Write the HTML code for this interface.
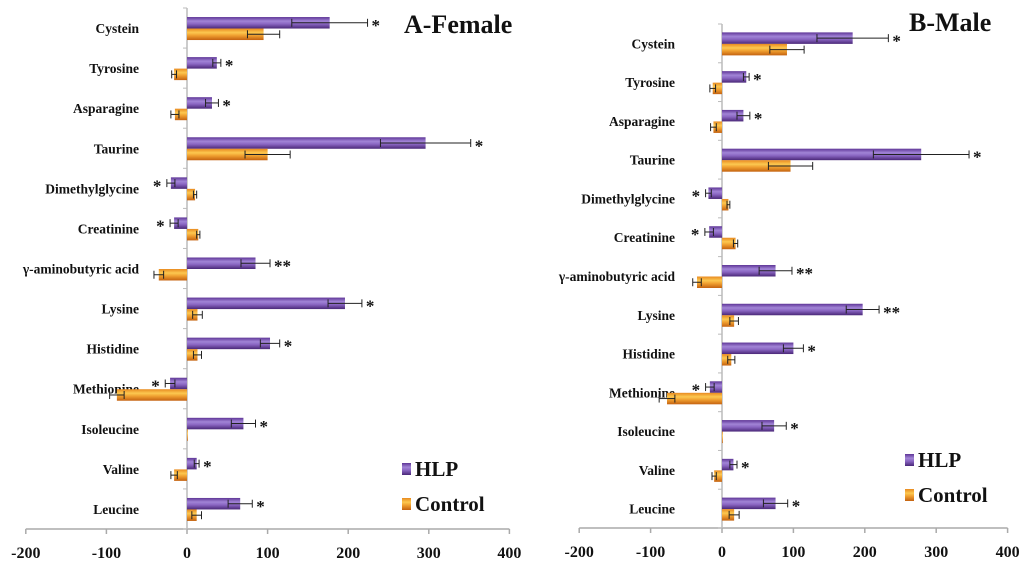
<!DOCTYPE html>
<html><head><meta charset="utf-8">
<style>
html,body{margin:0;padding:0;background:#fff;}
svg{display:block;}
text{font-family:"Liberation Serif",serif;font-weight:bold;fill:#111;}
</style></head>
<body>
<svg id="chart" width="1024" height="576" viewBox="0 0 1024 576" xmlns="http://www.w3.org/2000/svg">
<defs>
<linearGradient id="gP" x1="0" y1="0" x2="0" y2="1">
<stop offset="0" stop-color="#5e3596"/><stop offset="0.35" stop-color="#a184d6"/><stop offset="0.6" stop-color="#8a66c2"/><stop offset="1" stop-color="#4a2878"/>
</linearGradient>
<linearGradient id="gO" x1="0" y1="0" x2="0" y2="1">
<stop offset="0" stop-color="#e88a20"/><stop offset="0.35" stop-color="#fcc850"/><stop offset="0.6" stop-color="#f0a030"/><stop offset="1" stop-color="#c46210"/>
</linearGradient>
</defs>
</svg>
<script>
const categories = ["Cystein","Tyrosine","Asparagine","Taurine","Dimethylglycine","Creatinine","γ-aminobutyric acid","Lysine","Histidine","Methionine","Isoleucine","Valine","Leucine"];
const ticks = [-200,-100,0,100,200,300,400];
const femaleHLP = [177,37,31,296,-20,-16,85,196,103,-21,70,12,66];
const femaleHLPErr = [47,5,8,56,5,5,18,21,12,6,15,3,15];
const femaleControl = [95,-16,-15,100,10,14,-35,13,13,-87,0,-16,12];
const femaleControlErr = [20,3,5,28,2,2,6,6,5,9,0,4,6];
const femaleStars = ["*","*","*","*","*","*","**","*","*","*","*","*","*"];
const maleHLP = [183,34,30,279,-19,-18,75,197,100,-17,73,16,75];
const maleHLPErr = [50,4,9,67,4,6,23,23,14,6,17,5,17];
const maleControl = [91,-13,-12,96,9,19,-35,17,13,-77,0,-11,17];
const maleControlErr = [24,4,4,31,2,3,6,6,5,11,0,3,7];
const maleStars = ["*","*","*","*","*","*","**","**","*","*","*","*","*"];

const svg = document.getElementById('chart');
const NS = 'http://www.w3.org/2000/svg';
function mk(tag, attrs, parent){const e=document.createElementNS(NS,tag);for(const k in attrs)e.setAttribute(k,attrs[k]);(parent||svg).appendChild(e);return e;}

function panel(cfg, hlp, hlpE, ctl, ctlE, stars){
  const g = mk('g',{});
  
  
  const xs = v => cfg.x0 + v*cfg.k;
  const n = categories.length;
  const band = (cfg.bottom - cfg.top)/n;
  const cy = i => cfg.top + band*(i+0.5);
  const ax = mk('line',{x1:xs(ticks[0]),x2:xs(ticks[ticks.length-1]),y1:cfg.bottom,y2:cfg.bottom,stroke:'#aaa','stroke-width':1.5},g);
  
  
  ticks.forEach(t=>{
    mk('line',{x1:xs(t),x2:xs(t),y1:cfg.bottom,y2:cfg.bottom+5,stroke:'#aaa','stroke-width':1.5},g);
    const tl = mk('text',{x:xs(t),y:cfg.bottom+29,'text-anchor':'middle','font-size':16},g);
    tl.textContent = t;
    
    
  });
  const ya = mk('line',{x1:xs(0),x2:xs(0),y1:cfg.top,y2:cfg.bottom,stroke:'#bbb','stroke-width':1.5},g);
  
  
  for(let i=0;i<=n;i++){mk('line',{x1:xs(0)-4,x2:xs(0),y1:cfg.top+band*i,y2:cfg.top+band*i,stroke:'#bbb','stroke-width':1},g);}
  categories.forEach((c,i)=>{
    const l = mk('text',{x:cfg.labelX,y:cy(i)+5,'text-anchor':'end','font-size':13.5},g);
    l.textContent = c;
    
    
    const series = [[hlp[i],hlpE[i],'url(#gP)',cy(i)-11,'hlp-bar'],[ctl[i],ctlE[i],'url(#gO)',cy(i)+0.5,'control-bar']];
    series.forEach(([v,e,fill,y,nm])=>{
      const x1 = Math.min(xs(0),xs(v)), w = Math.abs(xs(v)-xs(0));
      const r = mk('rect',{x:x1,y:y,width:Math.max(w,0.8),height:11.5,fill:fill},g);
      
      
      if(e>0){
        const ym = y+5.75;
        const a = xs(v-e), b = xs(v+e);
        mk('line',{x1:a,x2:b,y1:ym,y2:ym,stroke:'#222','stroke-width':1},g);
        mk('line',{x1:a,x2:a,y1:ym-4,y2:ym+4,stroke:'#222','stroke-width':1},g);
        mk('line',{x1:b,x2:b,y1:ym-4,y2:ym+4,stroke:'#222','stroke-width':1},g);
      }
    });
    const v = hlp[i], e = hlpE[i];
    const sx = v>=0 ? xs(v+e)+4 : xs(v-e)-14;
    const s = mk('text',{x:sx,y:cy(i)+3,'font-size':17,'text-anchor':'start'},g);
    s.textContent = stars[i];
    
    
  });
  const t = mk('text',{x:cfg.titleX,y:cfg.titleY,'font-size':26},g);
  t.textContent = cfg.title;
  
  
  [['HLP','url(#gP)',cfg.legY],['Control','url(#gO)',cfg.legY+35]].forEach(([lab,f,y])=>{
    const m = mk('rect',{x:cfg.legX,y:y,width:9,height:12,fill:f},g);
    
    
    const lt = mk('text',{x:cfg.legX+13,y:y+13,'font-size':21},g);
    lt.textContent = lab;
    
    
  });
}
panel({name:'female-panel',x0:187,k:0.806,top:8,bottom:529,labelX:139,title:'A-Female',titleX:404,titleY:33,legX:402,legY:463}, femaleHLP, femaleHLPErr, femaleControl, femaleControlErr, femaleStars);
panel({name:'male-panel',x0:722,k:0.714,top:24,bottom:528,labelX:675,title:'B-Male',titleX:909,titleY:31,legX:905,legY:454}, maleHLP, maleHLPErr, maleControl, maleControlErr, maleStars);
</script>
</body></html>
